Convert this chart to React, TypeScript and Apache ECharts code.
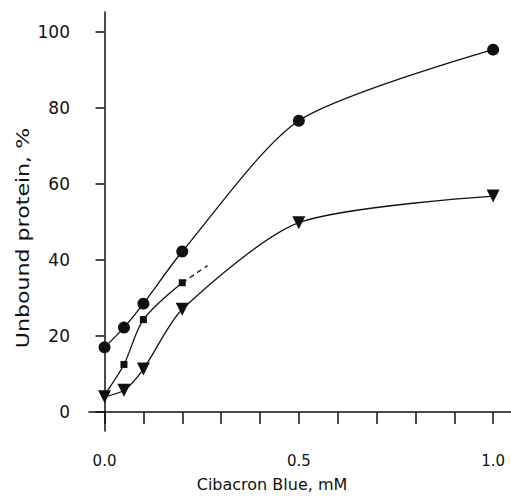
import React, { useEffect, useRef } from "react";
import * as echarts from "echarts";

const concentration = [0, 0.05, 0.1, 0.2, 0.5, 1.0];
const circleValues = [17, 22.2, 28.5, 42.2, 76.6, 95.3];
const starX = [0, 0.05, 0.1, 0.2];
const starValues = [4.5, 12.5, 24.3, 34];
const dashedX = [0.2, 0.265];
const dashedValues = [34, 38.5];
const triangleValues = [4, 5.7, 11.3, 27, 49.8, 56.8];
const xTicks = [0, 0.1, 0.2, 0.3, 0.4, 0.5, 0.6, 0.7, 0.8, 0.9, 1.0];
const xLabels = [0, 0.5, 1.0];
const yTicks = [0, 20, 40, 60, 80, 100];
const yTitle = "Unbound protein, %";
const xTitle = "Cibacron Blue, mM";

const pairs = (xs: number[], ys: number[]) => xs.map((x, i) => [x, ys[i]]);

export default function App() {
  const ref = useRef<HTMLDivElement>(null);
  useEffect(() => {
    if (!ref.current) return;
    const chart = echarts.init(ref.current, null, { renderer: "svg" });
    const font = "DejaVu Sans";
    const lineStyle = { color: "#111", width: 1.3 };
    chart.setOption({
      animation: false,
      backgroundColor: "#fff",
      grid: { left: 89, right: 0, top: 12, bottom: 64 },
      graphic: [
        {
          type: "text",
          x: 23,
          y: 238,
          rotation: Math.PI / 2,
          scaleX: 1.3,
          style: {
            text: yTitle,
            fontFamily: font,
            fontSize: 17,
            fill: "#111",
            align: "center",
            verticalAlign: "middle",
          },
        },
      ],
      xAxis: {
        type: "value",
        min: -0.04,
        max: 1.046,
        name: xTitle,
        nameLocation: "middle",
        nameGap: 45,
        nameTextStyle: { fontFamily: font, fontSize: 16, color: "#111", padding: [0, 56, 0, 0] },
        axisLine: { show: true, lineStyle: { color: "#111", width: 1.5 } },
        axisTick: { show: true, customValues: xTicks, length: 12, lineStyle: { color: "#111", width: 1.5 } },
        axisLabel: {
          customValues: xLabels,
          margin: 22,
          fontFamily: font,
          fontSize: 15,
          color: "#111",
          formatter: (v: number) => v.toFixed(1),
        },
        splitLine: { show: false },
      },
      yAxis: {
        type: "value",
        min: -5,
        max: 105.2,
        axisLine: { show: true, lineStyle: { color: "#111", width: 1.5 } },
        axisTick: { show: true, customValues: yTicks, length: 9, lineStyle: { color: "#111", width: 1.5 } },
        axisLabel: { customValues: yTicks, margin: 19, fontFamily: font, fontSize: 17, color: "#111" },
        splitLine: { show: false },
      },
      series: [
        {
          type: "line",
          data: pairs(concentration, circleValues),
          smooth: 0.25,
          symbol: "circle",
          symbolSize: 12,
          itemStyle: { color: "#111" },
          lineStyle,
        },
        {
          type: "line",
          data: pairs(starX, starValues).map((d, i) =>
            i === 0 ? { value: d, symbol: "none" } : { value: d }
          ),
          smooth: 0.3,
          symbol: "rect",
          symbolSize: 7,
          itemStyle: { color: "#111" },
          lineStyle,
        },
        {
          type: "line",
          data: pairs(dashedX, dashedValues),
          symbol: "none",
          lineStyle: { color: "#111", width: 1.3, type: [5, 4] },
        },
        {
          type: "line",
          data: pairs(concentration, triangleValues),
          smooth: 0.25,
          symbol: "triangle",
          symbolRotate: 180,
          symbolSize: 13,
          itemStyle: { color: "#111" },
          lineStyle,
        },
      ],
    });
    return () => chart.dispose();
  }, []);
  return (
    <div
      ref={ref}
      style={{ position: "fixed", left: 0, top: 0, width: 511, height: 497 }}
    />
  );
}
